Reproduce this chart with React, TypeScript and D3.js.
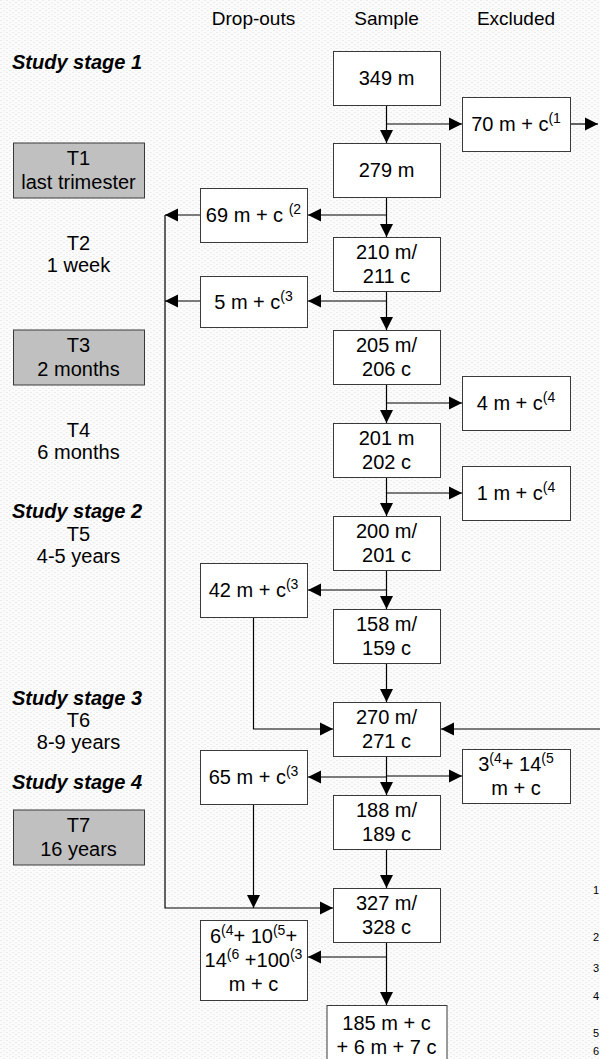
import * as d3 from "d3";
import { useEffect, useRef } from "react";

const W = 600;
const H = 1059;

// column headers
const columns = ["Drop-outs", "Sample", "Excluded"];

// left hand labels
const stageLabels = ["Study stage 1", "Study stage 2", "Study stage 3", "Study stage 4"];
const timepoints = [
  ["T1", "last trimester"],
  ["T2", "1 week"],
  ["T3", "2 months"],
  ["T4", "6 months"],
  ["T5", "4-5 years"],
  ["T6", "8-9 years"],
  ["T7", "16 years"],
];
const timepointBoxed = [true, false, true, false, false, false, true];

// counts, {..} = superscript
const sampleCounts = [
  ["349 m"],
  ["279 m"],
  ["210 m/", "211 c"],
  ["205 m/", "206 c"],
  ["201 m", "202 c"],
  ["200 m/", "201 c"],
  ["158 m/", "159 c"],
  ["270 m/", "271 c"],
  ["188 m/", "189 c"],
  ["327 m/", "328 c"],
  ["185 m + c", "+ 6 m + 7 c"],
];
const dropoutCounts = [
  ["69 m + c {(2}"],
  ["5 m + c{(3}"],
  ["42 m + c{(3}"],
  ["65 m + c{(3}"],
  ["6{(4}+ 10{(5}+", "14{(6} +100{(3}", "m + c"],
];
const excludedCounts = [
  ["70 m + c{(1}"],
  ["4 m + c{(4}"],
  ["1 m + c{(4}"],
  ["3{(4}+ 14{(5}", "m + c"],
];
const footnoteNumbers = ["1", "2", "3", "4", "5", "6"];

// layout (pixels)
const sampleTop = [51, 143, 237, 330, 423, 516, 609, 702, 795, 888, 1005];
const dropoutTop = [188, 276, 563, 750, 920];
const dropoutH = [54, 51, 54, 54, 80];
const dropoutArrowY = [215, 301, 590, 777, 957];
const excludedTop = [97, 376, 466, 749];
const stageY = [62, 511, 698, 782];
const timepointY = [170, 254, 357, 441, 545, 731, 837];
const footnoteY = [894, 941, 972, 1000, 1037, 1055];

const FONT = "'Liberation Sans', Arial, sans-serif";

export default function App() {
  const ref = useRef<SVGSVGElement | null>(null);

  useEffect(() => {
    document.body.style.margin = "0";
    const svg = d3.select(ref.current);
    svg.selectAll("*").remove();

    const x = d3.scaleOrdinal<string, number>().domain(columns).range([253.5, 386.5, 516]);
    const y = d3.scaleLinear().domain([0, H]).range([0, H]);

    const defs = svg.append("defs");
    const pat = defs
      .append("pattern")
      .attr("id", "bg")
      .attr("width", 6)
      .attr("height", 4)
      .attr("patternUnits", "userSpaceOnUse");
    pat.append("rect").attr("width", 6).attr("height", 4).attr("fill", "#fbfbfb");
    pat.append("rect").attr("x", 0).attr("y", 0).attr("width", 2).attr("height", 1).attr("fill", "#ececec");
    pat.append("rect").attr("x", 3).attr("y", 2).attr("width", 2).attr("height", 1).attr("fill", "#ececec");

    svg.append("rect").attr("width", W).attr("height", H).attr("fill", "url(#bg)");

    const lines = svg.append("g");
    const boxes = svg.append("g");

    const richText = (
      g: d3.Selection<SVGGElement, unknown, null, undefined>,
      cx: number,
      cy: number,
      rows: string[],
      size = 20,
      gap = 24
    ) => {
      rows.forEach((row, i) => {
        const base = cy + (i - (rows.length - 1) / 2) * gap + size * 0.36;
        const t = g
          .append("text")
          .attr("x", cx)
          .attr("y", base)
          .attr("text-anchor", "middle")
          .attr("font-family", FONT)
          .attr("font-size", size)
          .attr("fill", "#000");
        const parts = row.split(/(\{[^}]*\})/).filter((p) => p.length);
        let raised = false;
        parts.forEach((p) => {
          if (p.startsWith("{")) {
            t.append("tspan")
              .attr("font-size", size * 0.7)
              .attr("dy", raised ? 0 : -8)
              .text(p.slice(1, -1));
            raised = true;
          } else {
            t.append("tspan")
              .attr("dy", raised ? 8 : 0)
              .text(p);
            raised = false;
          }
        });
      });
    };

    const box = (x0: number, y0: number, w: number, h: number, rows: string[], fill = "#fff") => {
      const g = boxes.append("g");
      g.append("rect")
        .attr("x", x0 + 0.5)
        .attr("y", y0 + 0.5)
        .attr("width", w)
        .attr("height", h)
        .attr("fill", fill)
        .attr("stroke", "#3a3a3a")
        .attr("stroke-width", 1);
      richText(g, x0 + w / 2, y0 + h / 2, rows);
    };

    const arrow = (pts: [number, number][], head = true) => {
      lines
        .append("path")
        .attr("d", d3.line()(pts))
        .attr("fill", "none")
        .attr("stroke", "#000")
        .attr("stroke-width", 1.2);
      if (!head) return;
      const [ax, ay] = pts[pts.length - 2];
      const [bx, by] = pts[pts.length - 1];
      const ang = Math.atan2(by - ay, bx - ax);
      const L = 13;
      const Wd = 6.5;
      const p1: [number, number] = [bx - L * Math.cos(ang) + Wd * Math.sin(ang), by - L * Math.sin(ang) - Wd * Math.cos(ang)];
      const p2: [number, number] = [bx - L * Math.cos(ang) - Wd * Math.sin(ang), by - L * Math.sin(ang) + Wd * Math.cos(ang)];
      lines
        .append("path")
        .attr("d", `M${bx},${by}L${p1[0]},${p1[1]}L${p2[0]},${p2[1]}Z`)
        .attr("fill", "#000");
    };

    // headers
    columns.forEach((c) => {
      svg
        .append("text")
        .attr("x", x(c))
        .attr("y", 25)
        .attr("text-anchor", "middle")
        .attr("font-family", FONT)
        .attr("font-size", 19)
        .text(c);
    });

    const sx = x("Sample");
    const sw = 107;
    const sampleBox = (i: number) => {
      const last = i === sampleCounts.length - 1;
      const w = last ? 120 : sw;
      const h = last ? 60 : 54;
      return { x0: sx - w / 2, y0: y(sampleTop[i]), w, h };
    };

    // sample spine
    sampleCounts.forEach((_, i) => {
      if (i === 0) return;
      const a = sampleBox(i - 1);
      const b = sampleBox(i);
      arrow([
        [sx, a.y0 + a.h],
        [sx, b.y0],
      ]);
    });

    // drop-outs
    const dx = x("Drop-outs");
    const dw = 107;
    dropoutCounts.forEach((rows, i) => {
      const x0 = dx - dw / 2;
      arrow([
        [sx, y(dropoutArrowY[i])],
        [x0 + dw + 1, y(dropoutArrowY[i])],
      ]);
      box(x0, y(dropoutTop[i]), dw, dropoutH[i], rows);
    });

    // rail on the left
    const railX = 165;
    [0, 1].forEach((i) => {
      arrow([
        [dx - dw / 2, y(dropoutArrowY[i])],
        [railX, y(dropoutArrowY[i])],
      ]);
    });
    arrow([
      [railX, y(dropoutArrowY[0])],
      [railX, y(908)],
      [sx - sw / 2, y(908)],
    ]);
    // 42 returns at T6
    arrow([
      [dx, y(dropoutTop[2] + dropoutH[2])],
      [dx, y(729)],
      [sx - sw / 2, y(729)],
    ]);
    // 65 returns at T7
    arrow([
      [dx, y(dropoutTop[3] + dropoutH[3])],
      [dx, y(908)],
    ]);

    // excluded
    const ex = x("Excluded");
    const ew = 108;
    excludedCounts.forEach((rows, i) => {
      const x0 = ex - ew / 2;
      const ay = y(excludedTop[i] + 27);
      arrow([
        [sx, ay],
        [x0, ay],
      ]);
      box(x0, y(excludedTop[i]), ew, 54, rows);
    });
    arrow([
      [ex + ew / 2, y(excludedTop[0] + 27)],
      [598, y(excludedTop[0] + 27)],
    ]);
    arrow([
      [W + 2, y(729)],
      [sx + sw / 2 + 1, y(729)],
    ]);

    sampleCounts.forEach((rows, i) => {
      const b = sampleBox(i);
      box(b.x0, b.y0, b.w, b.h, rows);
    });

    // left labels
    stageLabels.forEach((s, i) => {
      svg
        .append("text")
        .attr("x", 12)
        .attr("y", y(stageY[i]) + 7)
        .attr("font-family", FONT)
        .attr("font-size", 20)
        .attr("font-weight", "bold")
        .attr("font-style", "italic")
        .text(s);
    });
    const lx = 78.5;
    timepoints.forEach((rows, i) => {
      const cy = y(timepointY[i]);
      if (timepointBoxed[i]) {
        box(13, cy - 27.5, 131, 55, rows, "#c0c0c0");
      } else {
        richText(svg as any, lx, cy, rows, 20, 22);
      }
    });

    // footnote markers at the right edge
    footnoteNumbers.forEach((f, i) => {
      svg
        .append("text")
        .attr("x", 599)
        .attr("y", footnoteY[i])
        .attr("text-anchor", "end")
        .attr("font-family", FONT)
        .attr("font-size", 11)
        .text(f);
    });
  }, []);

  return <svg ref={ref} width={W} height={H} style={{ display: "block" }} />;
}
